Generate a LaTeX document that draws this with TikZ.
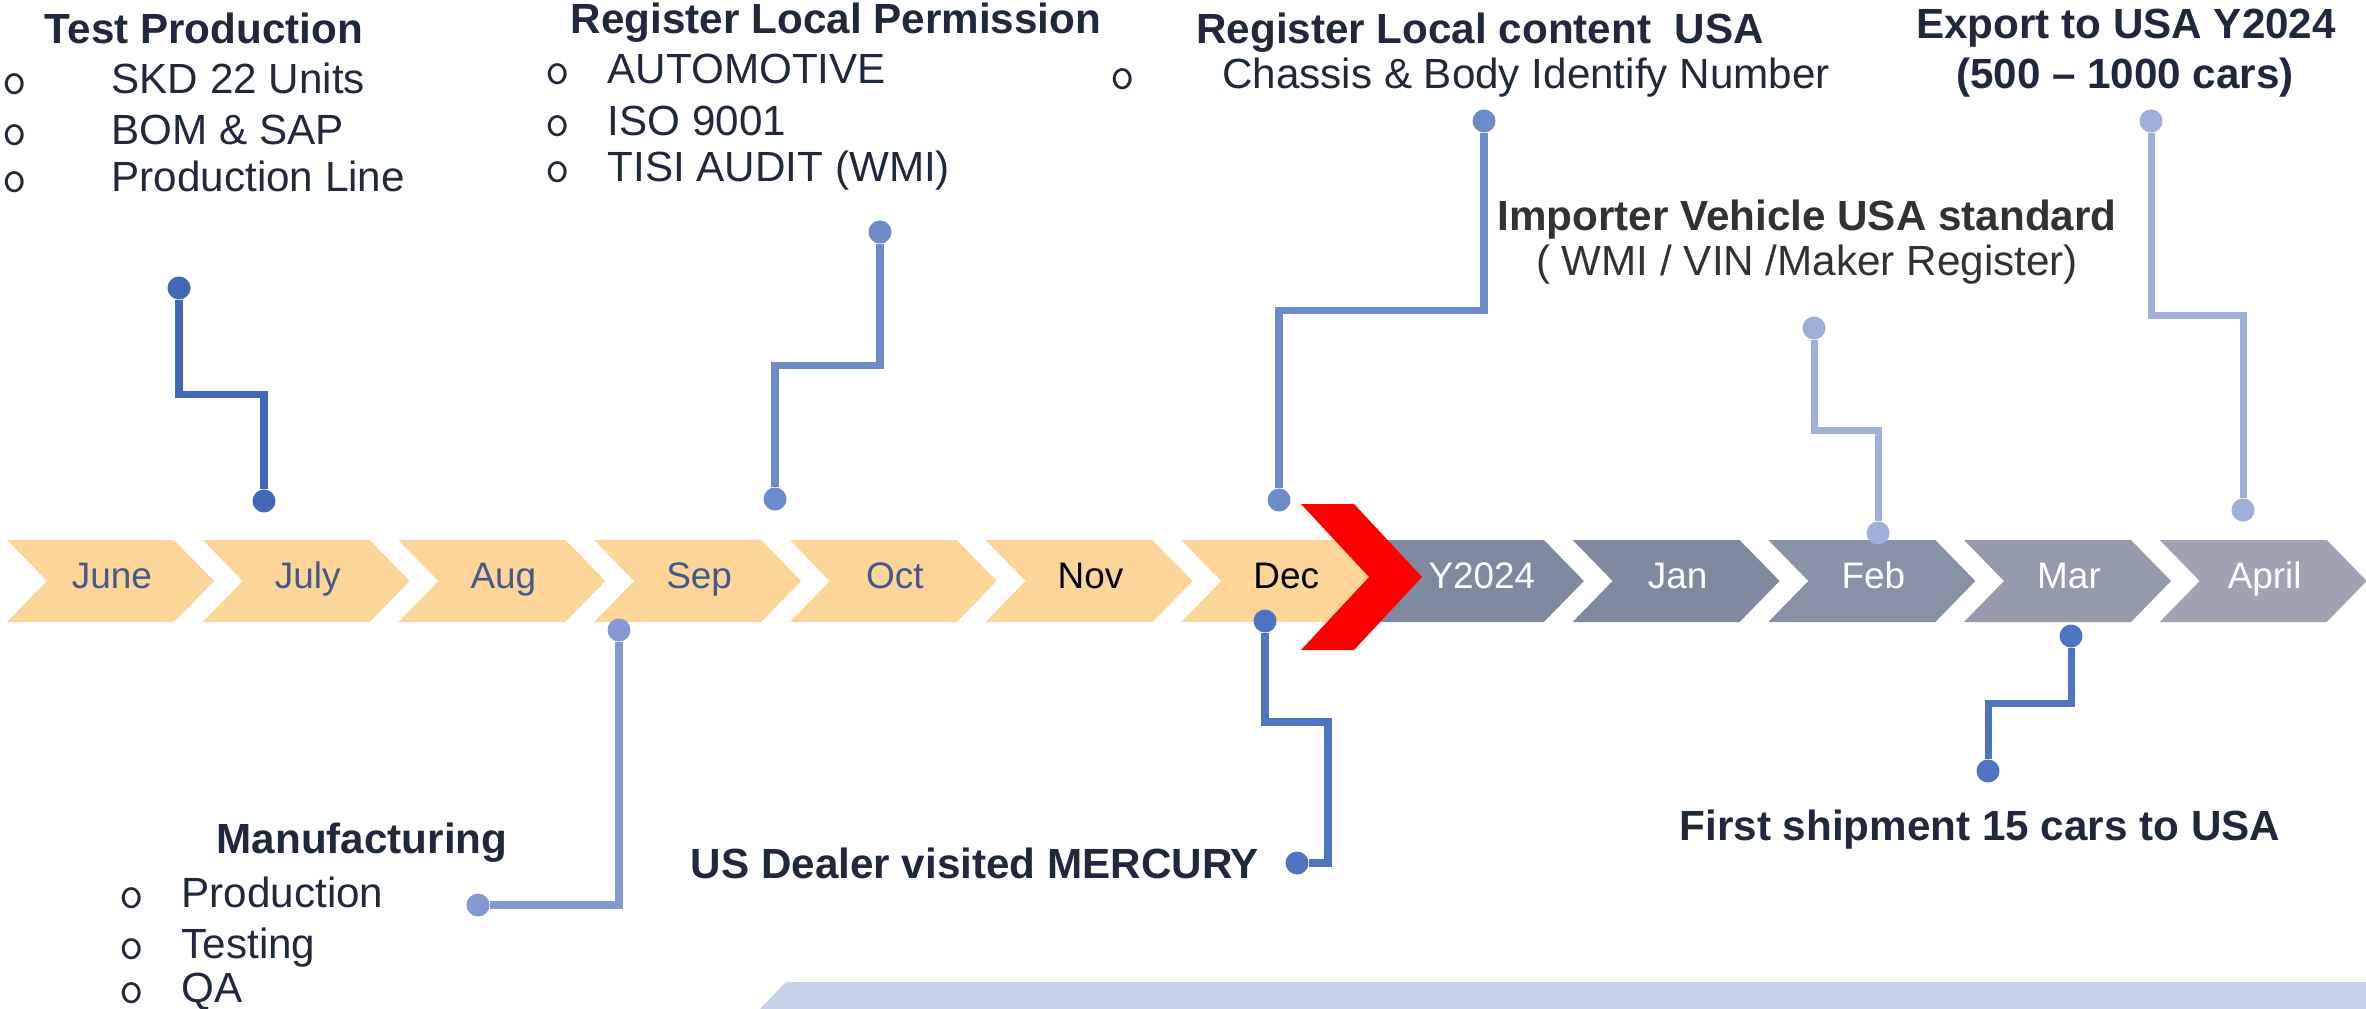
\documentclass[tikz,border=0pt]{standalone}
\usepackage{fontspec}
\setmainfont{Liberation Sans}
\usetikzlibrary{calc}

\definecolor{peach}{RGB}{253,213,153}
\definecolor{slateA}{RGB}{127,138,161}
\definecolor{slateB}{RGB}{137,145,166}
\definecolor{slateC}{RGB}{148,153,172}
\definecolor{slateD}{RGB}{159,163,179}
\definecolor{monthblue}{RGB}{68,89,138}
\definecolor{navy}{RGB}{31,40,60}
\definecolor{charcoal}{RGB}{50,50,50}
\definecolor{pinA}{RGB}{65,105,181}
\definecolor{pinB}{RGB}{107,139,202}
\definecolor{pinC}{RGB}{159,175,217}
\definecolor{pinD}{RGB}{132,153,211}
\definecolor{pinE}{RGB}{79,117,194}
\definecolor{barblue}{RGB}{197,211,230}
\definecolor{markred}{RGB}{255,0,0}

\begin{document}
\begin{tikzpicture}[x=0.01cm, y=-0.01cm,
    title/.style={font=\fontsize{12}{14}\selectfont\bfseries, text=navy, inner sep=0pt, anchor=base},
    entry/.style={font=\fontsize{12}{14}\selectfont, text=navy, inner sep=0pt, anchor=base west},
    bullet/.style={font=\fontsize{13.5}{14}\selectfont\ttfamily, text=navy, inner sep=0pt,
        text height=1ex, text depth=0pt, anchor=base, yshift=-0.015cm},
    month/.style={font=\fontsize{10.5}{12}\selectfont, inner sep=0pt, anchor=base},
    dot/.style={circle, fill=#1, inner sep=0pt, minimum size=0.23cm},
    pinline/.style={draw=#1, line width=2pt},
    stair/.style={to path={|- ($(\tikztostart)!.5!(\tikztotarget)$) -| (\tikztotarget)}}]
    \useasboundingbox (0,0) rectangle (2366,1009);

    % month arrows
    \foreach \i/\name/\fillc/\textc in {0/June/peach/monthblue, 1/July/peach/monthblue,
        2/Aug/peach/monthblue, 3/Sep/peach/monthblue, 4/Oct/peach/monthblue,
        5/Nov/peach/black, 6/Dec/peach/black, 7/Y2024/slateA/white, 8/Jan/slateA/white,
        9/Feb/slateB/white, 10/Mar/slateC/white, 11/April/slateD/white} {
        \fill[\fillc] (7+195.7*\i,540) -- ++(167,0) -- ++(40,41) -- ++(-40,41)
            -- ++(-167,0) -- ++(40,-41) -- cycle;
        \node[month, text=\textc] (m\i) at (112+195.7*\i,588) {\name};
    }

    % year mark
    \fill[markred] (1301,504) -- (1354,504) -- (1422,577) -- (1354,650)
        -- (1301,650) -- (1369,577) -- cycle;

    % bottom band
    \fill[barblue] (760,1009) -- (786,982) -- (2366,982) -- (2366,1009) -- cycle;

    %% pins above
    \node[dot=pinA] (jul-top) at (179,288) {};
    \node[dot=pinA] (jul-end) at (264,501) {};
    \draw[pinline=pinA] (jul-top) to[stair] (jul-end);

    \node[dot=pinB] (sep-top) at (880,232) {};
    \node[dot=pinB] (sep-end) at (775,499) {};
    \draw[pinline=pinB] (sep-top) to[stair] (sep-end);

    \node[dot=pinB] (dec-top) at (1484,121) {};
    \node[dot=pinB] (dec-end) at (1279,500) {};
    \draw[pinline=pinB] (dec-top) to[stair] (dec-end);

    \node[dot=pinC] (feb-top) at (1814,328) {};
    \node[dot=pinC] (feb-end) at (1878,533) {};
    \draw[pinline=pinC] (feb-top) to[stair] (feb-end);

    \node[dot=pinC] (apr-top) at (2151,121) {};
    \node[dot=pinC] (apr-end) at (2243,510) {};
    \draw[pinline=pinC] (apr-top) to[stair] (apr-end);

    %% pins below
    \node[dot=pinD] (sep-low) at (619,630) {};
    \node[dot=pinD] (mfg-end) at (478,905) {};
    \draw[pinline=pinD] (sep-low) |- (mfg-end);

    \node[dot=pinE] (dec-low) at (1265,621) {};
    \coordinate (dec-bend) at (1328,722);
    \node[dot=pinE] (dealer-end) at (1297,863) {};
    \draw[pinline=pinE] (dec-low) |- (dec-bend) |- (dealer-end);

    \node[dot=pinE] (mar-low) at (2071,636) {};
    \node[dot=pinE] (ship-end) at (1988,771) {};
    \draw[pinline=pinE] (mar-low) to[stair] (ship-end);

    % texts
    \node[title] (test) at (204,43) {Test Production};
    \foreach \txt/\yy [count=\k] in {SKD 22 Units/93, BOM \& SAP/144, Production Line/191} {
        \node[bullet] (test-o\k) at (15,\yy) {o};
        \node[entry] (test-\k) at (111,\yy) {\txt};
    }

    \node[title] (permit) at (836,33) {Register Local Permission};
    \foreach \txt/\yy [count=\k] in {AUTOMOTIVE/83, ISO 9001/135, TISI AUDIT (WMI)/181} {
        \node[bullet] (permit-o\k) at (558,\yy) {o};
        \node[entry] (permit-\k) at (607,\yy) {\txt};
    }

    \node[title] (content) at (1480,43) {Register Local content\ \ USA};
    \node[bullet] (content-o) at (1123,88) {o};
    \node[entry, anchor=base] (chassis) at (1526,88) {Chassis \& Body Identify Number};

    \node[title] (export) at (2126,38) {Export to USA Y2024};
    \node[title] (cars) at (2125,88) {(500 – 1000 cars)};

    \node[title, text=charcoal] (importer) at (1807,230) {Importer Vehicle USA standard};
    \node[entry, anchor=base, text=charcoal] (wmi) at (1807,275) {( WMI / VIN /Maker Register)};

    \node[title] (mfg) at (362,853) {Manufacturing};
    \foreach \txt/\yy [count=\k] in {Production/907, Testing/958, QA/1002} {
        \node[bullet] (mfg-o\k) at (132,\yy) {o};
        \node[entry] (mfg-\k) at (181,\yy) {\txt};
    }

    \node[title] (dealer) at (975,878) {US Dealer visited MERCURY};
    \node[title] (ship) at (1980,840) {First shipment 15 cars to USA};
\end{tikzpicture}
\end{document}
